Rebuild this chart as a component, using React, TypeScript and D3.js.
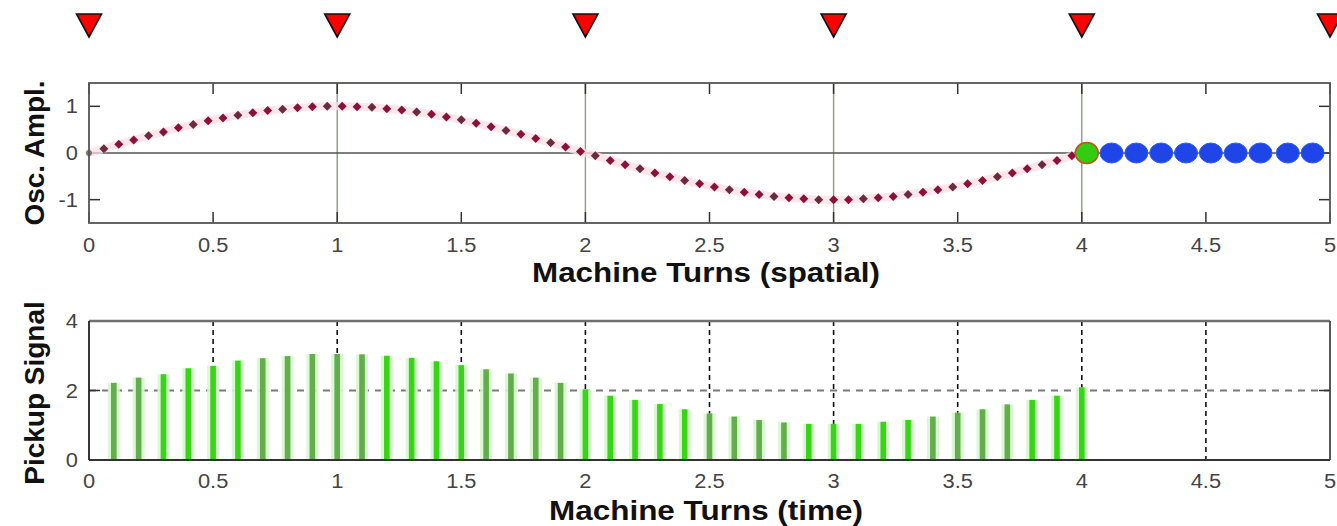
import React from "react";
import * as d3 from "d3";

const W = 1337;
const H = 526;

// Top panel: oscillation amplitude vs machine turns (spatial)
const oscX = [0, 0.06, 0.12, 0.18, 0.24, 0.3, 0.36, 0.42, 0.48, 0.54, 0.6, 0.66, 0.72, 0.78, 0.84, 0.9, 0.96, 1.02, 1.08, 1.14, 1.2, 1.26, 1.32, 1.38, 1.44, 1.5, 1.56, 1.62, 1.68, 1.74, 1.8, 1.86, 1.92, 1.98, 2.04, 2.1, 2.16, 2.22, 2.28, 2.34, 2.4, 2.46, 2.52, 2.58, 2.64, 2.7, 2.76, 2.82, 2.88, 2.94, 3.0, 3.06, 3.12, 3.18, 3.24, 3.3, 3.36, 3.42, 3.48, 3.54, 3.6, 3.66, 3.72, 3.78, 3.84, 3.9, 3.96];
const oscY = [0, 0.09, 0.19, 0.28, 0.37, 0.45, 0.54, 0.61, 0.69, 0.75, 0.81, 0.86, 0.91, 0.94, 0.97, 0.99, 1.0, 1.0, 0.99, 0.98, 0.95, 0.92, 0.88, 0.83, 0.77, 0.71, 0.64, 0.56, 0.48, 0.4, 0.31, 0.22, 0.13, 0.03, -0.06, -0.16, -0.25, -0.34, -0.43, -0.51, -0.59, -0.66, -0.73, -0.79, -0.84, -0.89, -0.93, -0.96, -0.98, -1.0, -1.0, -1.0, -0.98, -0.96, -0.93, -0.89, -0.84, -0.79, -0.73, -0.66, -0.59, -0.51, -0.43, -0.34, -0.25, -0.16, -0.06];
const currentX = [4.02];
const currentY = [0];
const bunchX = [4.12, 4.22, 4.32, 4.42, 4.52, 4.62, 4.72, 4.83, 4.93];
const bunchY = [0, 0, 0, 0, 0, 0, 0, 0, 0];
const turnMarks = [0, 1, 2, 3, 4, 5];
const topXTicks = [0, 0.5, 1, 1.5, 2, 2.5, 3, 3.5, 4, 4.5, 5];
const topXTickLabels = ["0", "0.5", "1", "1.5", "2", "2.5", "3", "3.5", "4", "4.5", "5"];
const topYTicks = [-1, 0, 1];
const topYTickLabels = ["-1", "0", "1"];
const topVLines = [1, 2, 3, 4];

// Bottom panel: pickup signal vs machine turns (time)
const barX = [0.1, 0.2, 0.3, 0.4, 0.5, 0.6, 0.7, 0.8, 0.9, 1.0, 1.1, 1.2, 1.3, 1.4, 1.5, 1.6, 1.7, 1.8, 1.9, 2.0, 2.1, 2.2, 2.3, 2.4, 2.5, 2.6, 2.7, 2.8, 2.9, 3.0, 3.1, 3.2, 3.3, 3.4, 3.5, 3.6, 3.7, 3.8, 3.9, 4.0];
const barY = [2.22, 2.37, 2.47, 2.64, 2.71, 2.86, 2.93, 2.99, 3.05, 3.05, 3.04, 3.0, 2.94, 2.84, 2.73, 2.61, 2.49, 2.37, 2.22, 2.03, 1.85, 1.73, 1.61, 1.46, 1.34, 1.25, 1.15, 1.08, 1.04, 1.04, 1.04, 1.1, 1.15, 1.25, 1.36, 1.46, 1.6, 1.73, 1.85, 2.09];
const barTone = ["m", "m", "b", "b", "b", "b", "m", "m", "m", "m", "m", "b", "b", "b", "b", "m", "m", "m", "m", "b", "b", "b", "b", "b", "m", "m", "m", "m", "b", "b", "b", "b", "b", "m", "m", "m", "m", "b", "b", "b"];
const botXTicks = [0, 0.5, 1, 1.5, 2, 2.5, 3, 3.5, 4, 4.5, 5];
const botXTickLabels = ["0", "0.5", "1", "1.5", "2", "2.5", "3", "3.5", "4", "4.5", "5"];
const botYTicks = [0, 2, 4];
const botYTickLabels = ["0", "2", "4"];
const botGridX = [0.5, 1, 1.5, 2, 2.5, 3, 3.5, 4, 4.5];
const botGridY = [2];

const FONT = "'Liberation Sans', Arial, Helvetica, sans-serif";

export default function App() {
  const L = 89;
  const R = 1330;
  const x1 = d3.scaleLinear().domain([0, 5]).range([L, R]);
  const y1 = d3.scaleLinear().domain([-1.5, 1.5]).range([223, 83]);
  const x2 = d3.scaleLinear().domain([0, 5]).range([L, R]);
  const y2 = d3.scaleLinear().domain([0, 4]).range([460, 321]);

  const oscPts: [number, number][] = oscX.map((x, i) => [x1(x), y1(oscY[i])]);
  const halo = d3.line()(oscPts) || "";

  const tickLabel = (x: number, y: number, s: string, anchor: string, key: string) => (
    <text
      key={key}
      transform={`translate(${x},${y}) scale(1.12,1)`}
      textAnchor={anchor}
      fontFamily={FONT}
      fontSize={19.5}
      fill="#444"
    >
      {s}
    </text>
  );

  const tri = (cx: number) => {
    const p = d3.path();
    p.moveTo(cx - 12.5, 14);
    p.lineTo(cx + 12.5, 14);
    p.lineTo(cx, 37);
    p.closePath();
    return p.toString();
  };

  return (
    <svg
      width={W}
      height={H}
      style={{ position: "fixed", left: 0, top: 0, background: "#fff", display: "block" }}
    >
      <rect x={0} y={0} width={W} height={H} fill="#fff" />

      {/* turn markers */}
      {turnMarks.map((t, i) => (
        <path key={"tri" + i} d={tri(x1(t))} fill="#ff0000" stroke="#111" strokeWidth={1.6} strokeLinejoin="miter" />
      ))}

      {/* ===== Top panel ===== */}
      <g>
        {topVLines.map((v, i) => (
          <line key={"vl" + i} x1={x1(v)} x2={x1(v)} y1={83} y2={223} stroke="#8c9a86" strokeWidth={1.4} />
        ))}
        <line x1={L} x2={R} y1={y1(0)} y2={y1(0)} stroke="#555" strokeWidth={1.6} />
        {/* ticks */}
        {topXTicks.map((t, i) => (
          <g key={"tx" + i}>
            <line x1={x1(t)} x2={x1(t)} y1={223} y2={212} stroke="#333" strokeWidth={1.5} />
            <line x1={x1(t)} x2={x1(t)} y1={83} y2={94} stroke="#333" strokeWidth={1.5} />
          </g>
        ))}
        {topYTicks.map((t, i) => (
          <g key={"ty" + i}>
            <line x1={L} x2={L + 11} y1={y1(t)} y2={y1(t)} stroke="#333" strokeWidth={1.5} />
            <line x1={R} x2={R - 11} y1={y1(t)} y2={y1(t)} stroke="#333" strokeWidth={1.5} />
          </g>
        ))}
        {/* data */}
        <path d={halo} fill="none" stroke="#ffdfe7" strokeWidth={8} strokeLinecap="round" strokeLinejoin="round" opacity={0.8} />
        {oscPts.map(([px, py], i) =>
          i === 0 ? (
            <circle key={"o" + i} cx={px} cy={py} r={3} fill="#7a7a70" />
          ) : (
            <path
              key={"o" + i}
              d={`M${px},${py - 4.5}L${px + 4.5},${py}L${px},${py + 4.5}L${px - 4.5},${py}Z`}
              fill={i % 3 === 1 ? "#6a2a40" : "#8a1238"}
            />
          )
        )}
        {bunchX.map((bx, i) => (
          <ellipse key={"b" + i} cx={x1(bx)} cy={y1(bunchY[i])} rx={11.5} ry={10} fill="#1f45e8" stroke="#2f5cf0" strokeWidth={1} />
        ))}
        {currentX.map((cx, i) => (
          <ellipse key={"c" + i} cx={x1(cx)} cy={y1(currentY[i])} rx={11.5} ry={10.5} fill="#33cc11" stroke="#c8501c" strokeWidth={1.5} />
        ))}
        {/* frame */}
        <rect x={L} y={83} width={R - L} height={140} fill="none" stroke="#555" strokeWidth={1.8} />
        {/* labels */}
        {topXTicks.map((t, i) => tickLabel(x1(t), 252, topXTickLabels[i], "middle", "txl" + i))}
        {topYTicks.map((t, i) => tickLabel(78, y1(t) + 7, topYTickLabels[i], "end", "tyl" + i))}
        <text
          x={706}
          y={282}
          textAnchor="middle"
          fontFamily={FONT}
          fontWeight="bold"
          fontSize={28}
          fill="#111"
          textLength={348}
          lengthAdjust="spacingAndGlyphs"
        >
          Machine Turns (spatial)
        </text>
        <text
          transform={`translate(44,153) rotate(-90)`}
          textAnchor="middle"
          fontFamily={FONT}
          fontWeight="bold"
          fontSize={28}
          fill="#111"
        >
          Osc. Ampl.
        </text>
      </g>

      {/* ===== Bottom panel ===== */}
      <g>
        {botGridX.map((g, i) => (
          <line key={"gx" + i} x1={x2(g)} x2={x2(g)} y1={321} y2={460} stroke="#111" strokeWidth={1.6} strokeDasharray="5,4" />
        ))}
        {botGridY.map((g, i) => (
          <line key={"gy" + i} x1={L} x2={R} y1={y2(g)} y2={y2(g)} stroke="#7a7a7a" strokeWidth={2.2} strokeDasharray="7,6" />
        ))}
        {barX.map((bx, i) => {
          const cx = x2(bx);
          const top = y2(barY[i]);
          const base = y2(0);
          return (
            <g key={"bar" + i}>
              <rect x={cx - 6} y={top} width={12} height={base - top} fill="#d6f7cc" opacity={0.9} />
              <rect x={cx - 2.8} y={top} width={5.6} height={base - top} fill={barTone[i] === "b" ? "#35d614" : "#63ad4c"} />
            </g>
          );
        })}
        {botYTicks.map((t, i) => (
          <g key={"by" + i}>
            <line x1={L} x2={L + 11} y1={y2(t)} y2={y2(t)} stroke="#333" strokeWidth={1.5} />
            <line x1={R} x2={R - 11} y1={y2(t)} y2={y2(t)} stroke="#333" strokeWidth={1.5} />
          </g>
        ))}
        <line x1={L} x2={R} y1={321} y2={321} stroke="#6f6f6f" strokeWidth={2.6} />
        <line x1={L} x2={R} y1={460} y2={460} stroke="#333" strokeWidth={1.8} />
        <line x1={L} x2={L} y1={321} y2={460} stroke="#222" strokeWidth={1.8} />
        <line x1={R} x2={R} y1={321} y2={460} stroke="#444" strokeWidth={1.8} />
        {botXTicks.map((t, i) => tickLabel(x2(t), 488, botXTickLabels[i], "middle", "bxl" + i))}
        {botYTicks.map((t, i) => tickLabel(78, y2(t) + 7, botYTickLabels[i], "end", "byl" + i))}
        <text
          x={706}
          y={520}
          textAnchor="middle"
          fontFamily={FONT}
          fontWeight="bold"
          fontSize={28}
          fill="#111"
          textLength={314}
          lengthAdjust="spacingAndGlyphs"
        >
          Machine Turns (time)
        </text>
        <text
          transform={`translate(44,393) rotate(-90)`}
          textAnchor="middle"
          fontFamily={FONT}
          fontWeight="bold"
          fontSize={28}
          fill="#111"
        >
          Pickup Signal
        </text>
      </g>
    </svg>
  );
}
